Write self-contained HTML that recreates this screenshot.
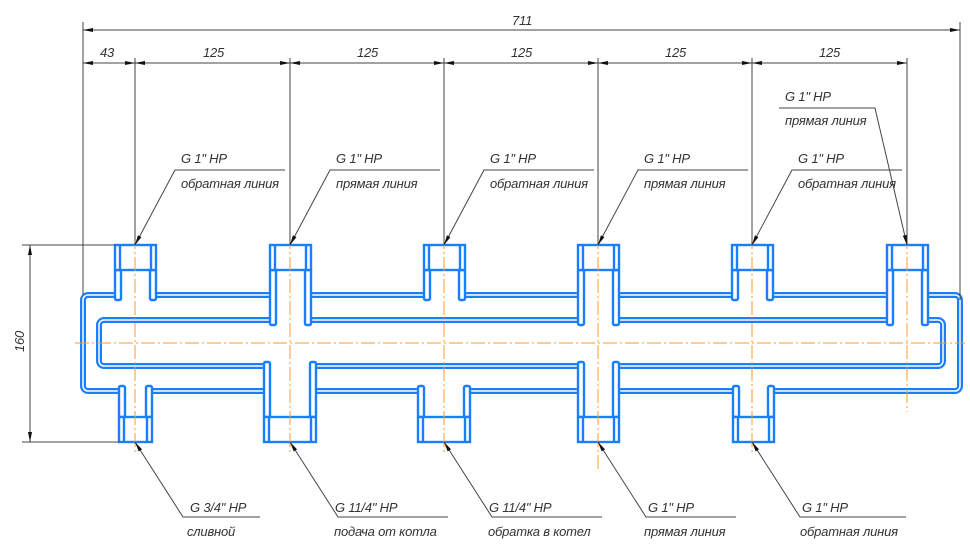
<!DOCTYPE html>
<html><head><meta charset="utf-8"><style>html,body{margin:0;padding:0;background:#fff}svg{display:block}text{font-family:"Liberation Sans",sans-serif;font-style:italic;font-size:13px;fill:#333;letter-spacing:-0.2px}</style></head><body>
<svg width="970" height="550" viewBox="0 0 970 550" xmlns="http://www.w3.org/2000/svg">
<defs>
<marker id="a" viewBox="0 0 10 4" refX="10" refY="2" markerWidth="10" markerHeight="4" orient="auto-start-reverse" markerUnits="userSpaceOnUse"><path d="M0,0L10,2L0,4z" fill="#111"/></marker>
</defs>
<g fill="none">
<rect x="83" y="295" width="877" height="96" rx="5" stroke="#1a7fff" stroke-width="6"/>
<rect x="83" y="295" width="877" height="96" rx="5" stroke="#fff" stroke-width="1.5"/>
<rect x="99" y="320" width="844" height="46" rx="5" stroke="#1a7fff" stroke-width="6"/>
<rect x="99" y="320" width="844" height="46" rx="5" stroke="#fff" stroke-width="1.5"/>
</g>
<g stroke="#1a7fff" stroke-width="2.4" fill="#fff">
<rect x="115" y="245" width="41" height="56" stroke="none"/><rect x="115" y="270" width="6" height="30" rx="1.5"/><rect x="150" y="270" width="6" height="30" rx="1.5"/><rect x="115" y="245" width="41" height="25"/><line x1="120" y1="245" x2="120" y2="270"/><line x1="151" y1="245" x2="151" y2="270"/>
<rect x="424" y="245" width="41" height="56" stroke="none"/><rect x="424" y="270" width="6" height="30" rx="1.5"/><rect x="459" y="270" width="6" height="30" rx="1.5"/><rect x="424" y="245" width="41" height="25"/><line x1="429" y1="245" x2="429" y2="270"/><line x1="460" y1="245" x2="460" y2="270"/>
<rect x="732" y="245" width="41" height="56" stroke="none"/><rect x="732" y="270" width="6" height="30" rx="1.5"/><rect x="767" y="270" width="6" height="30" rx="1.5"/><rect x="732" y="245" width="41" height="25"/><line x1="737" y1="245" x2="737" y2="270"/><line x1="768" y1="245" x2="768" y2="270"/>
<rect x="270" y="245" width="41" height="80" stroke="none"/><rect x="270" y="270" width="6" height="55" rx="1.5"/><rect x="305" y="270" width="6" height="55" rx="1.5"/><rect x="270" y="245" width="41" height="25"/><line x1="275" y1="245" x2="275" y2="270"/><line x1="306" y1="245" x2="306" y2="270"/>
<rect x="578" y="245" width="41" height="80" stroke="none"/><rect x="578" y="270" width="6" height="55" rx="1.5"/><rect x="613" y="270" width="6" height="55" rx="1.5"/><rect x="578" y="245" width="41" height="25"/><line x1="583" y1="245" x2="583" y2="270"/><line x1="614" y1="245" x2="614" y2="270"/>
<rect x="887" y="245" width="41" height="80" stroke="none"/><rect x="887" y="270" width="6" height="55" rx="1.5"/><rect x="922" y="270" width="6" height="55" rx="1.5"/><rect x="887" y="245" width="41" height="25"/><line x1="892" y1="245" x2="892" y2="270"/><line x1="923" y1="245" x2="923" y2="270"/>
<rect x="119" y="386" width="33" height="56" stroke="none"/><rect x="119" y="386" width="6" height="31" rx="1.5"/><rect x="146" y="386" width="6" height="31" rx="1.5"/><rect x="119" y="417" width="33" height="25"/><line x1="124" y1="417" x2="124" y2="442"/><line x1="147" y1="417" x2="147" y2="442"/>
<rect x="418" y="386" width="52" height="56" stroke="none"/><rect x="418" y="386" width="6" height="31" rx="1.5"/><rect x="464" y="386" width="6" height="31" rx="1.5"/><rect x="418" y="417" width="52" height="25"/><line x1="423" y1="417" x2="423" y2="442"/><line x1="465" y1="417" x2="465" y2="442"/>
<rect x="733" y="386" width="41" height="56" stroke="none"/><rect x="733" y="386" width="6" height="31" rx="1.5"/><rect x="768" y="386" width="6" height="31" rx="1.5"/><rect x="733" y="417" width="41" height="25"/><line x1="738" y1="417" x2="738" y2="442"/><line x1="769" y1="417" x2="769" y2="442"/>
<rect x="264" y="362" width="52" height="80" stroke="none"/><rect x="264" y="362" width="6" height="55" rx="1.5"/><rect x="310" y="362" width="6" height="55" rx="1.5"/><rect x="264" y="417" width="52" height="25"/><line x1="269" y1="417" x2="269" y2="442"/><line x1="311" y1="417" x2="311" y2="442"/>
<rect x="578" y="362" width="41" height="80" stroke="none"/><rect x="578" y="362" width="6" height="55" rx="1.5"/><rect x="613" y="362" width="6" height="55" rx="1.5"/><rect x="578" y="417" width="41" height="25"/><line x1="583" y1="417" x2="583" y2="442"/><line x1="614" y1="417" x2="614" y2="442"/>
</g>
<g stroke="#ff9a30" stroke-width="1" stroke-dasharray="14,3,2,3" fill="none">
<line x1="75" y1="343" x2="965" y2="343"/>
<line x1="135" y1="235" x2="135" y2="455"/>
<line x1="290" y1="235" x2="290" y2="455"/>
<line x1="444" y1="235" x2="444" y2="455"/>
<line x1="598" y1="235" x2="598" y2="470"/>
<line x1="752" y1="235" x2="752" y2="455"/>
<line x1="907" y1="235" x2="907" y2="412"/>
</g>
<g stroke="#444" stroke-width="1" fill="none">
<line x1="83" y1="22" x2="83" y2="295"/>
<line x1="960" y1="22" x2="960" y2="300"/>
<line x1="135" y1="58" x2="135" y2="245"/>
<line x1="290" y1="58" x2="290" y2="245"/>
<line x1="444" y1="58" x2="444" y2="245"/>
<line x1="598" y1="58" x2="598" y2="245"/>
<line x1="752" y1="58" x2="752" y2="245"/>
<line x1="907" y1="58" x2="907" y2="245"/>
<line x1="83" y1="30" x2="960" y2="30" marker-start="url(#a)" marker-end="url(#a)"/>
<line x1="83" y1="63" x2="135" y2="63" marker-start="url(#a)" marker-end="url(#a)"/>
<line x1="135" y1="63" x2="290" y2="63" marker-start="url(#a)" marker-end="url(#a)"/>
<line x1="290" y1="63" x2="444" y2="63" marker-start="url(#a)" marker-end="url(#a)"/>
<line x1="444" y1="63" x2="598" y2="63" marker-start="url(#a)" marker-end="url(#a)"/>
<line x1="598" y1="63" x2="752" y2="63" marker-start="url(#a)" marker-end="url(#a)"/>
<line x1="752" y1="63" x2="907" y2="63" marker-start="url(#a)" marker-end="url(#a)"/>
<line x1="22" y1="245" x2="115" y2="245"/>
<line x1="22" y1="442" x2="119" y2="442"/>
<line x1="30" y1="245" x2="30" y2="442" marker-start="url(#a)" marker-end="url(#a)"/>
<polyline points="285,170 175,170 135,245" marker-end="url(#a)"/>
<polyline points="440,170 330,170 290,245" marker-end="url(#a)"/>
<polyline points="594,170 484,170 444,245" marker-end="url(#a)"/>
<polyline points="748,170 638,170 598,245" marker-end="url(#a)"/>
<polyline points="902,170 792,170 752,245" marker-end="url(#a)"/>
<polyline points="779,108 875,108 907,245" marker-end="url(#a)"/>
<polyline points="260,517 183,517 135,442" marker-end="url(#a)"/>
<polyline points="448,517 338,517 290,442" marker-end="url(#a)"/>
<polyline points="602,517 492,517 444,442" marker-end="url(#a)"/>
<polyline points="736,517 646,517 598,442" marker-end="url(#a)"/>
<polyline points="906,517 800,517 752,442" marker-end="url(#a)"/>
</g>
<g>
<text x="512" y="25">711</text>
<text x="100" y="57">43</text>
<text x="203" y="57">125</text>
<text x="357" y="57">125</text>
<text x="511" y="57">125</text>
<text x="665" y="57">125</text>
<text x="819" y="57">125</text>
<text transform="translate(24,352) rotate(-90)">160</text>
<text x="181" y="163">G 1" HP</text><text x="181" y="188">обратная линия</text>
<text x="336" y="163">G 1" HP</text><text x="336" y="188">прямая линия</text>
<text x="490" y="163">G 1" HP</text><text x="490" y="188">обратная линия</text>
<text x="644" y="163">G 1" HP</text><text x="644" y="188">прямая линия</text>
<text x="798" y="163">G 1" HP</text><text x="798" y="188">обратная линия</text>
<text x="785" y="101">G 1" HP</text><text x="785" y="125">прямая линия</text>
<text x="190" y="512">G 3/4" HP</text><text x="187" y="536">сливной</text>
<text x="335" y="512">G 11/4" HP</text><text x="334" y="536">подача от котла</text>
<text x="489" y="512">G 11/4" HP</text><text x="488" y="536">обратка в котел</text>
<text x="648" y="512">G 1" HP</text><text x="644" y="536">прямая линия</text>
<text x="802" y="512">G 1" HP</text><text x="800" y="536">обратная линия</text>
</g>
</svg>
</body></html>
